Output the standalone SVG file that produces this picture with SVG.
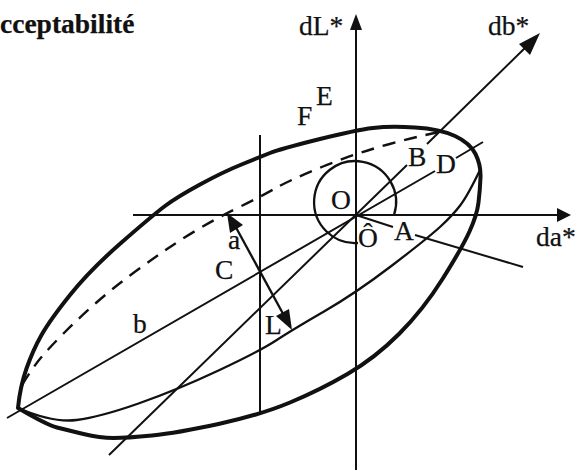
<svg xmlns="http://www.w3.org/2000/svg" width="575" height="472" viewBox="0 0 575 472">
<style>
text{font-family:"Liberation Serif","Times New Roman",serif;font-size:27.5px;fill:#111;stroke:#111;stroke-width:.25}
.title{font-weight:bold}
.l{fill:none;stroke:#111;stroke-width:2}
.m{fill:none;stroke:#111;stroke-width:2.3}
.thick{fill:none;stroke:#111;stroke-width:4;stroke-linejoin:round}
.dash{fill:none;stroke:#111;stroke-width:2.4;stroke-dasharray:13 9}
.head{fill:#111;stroke:none}
</style>
<rect width="575" height="472" fill="#fff"/>
<g id="connectors">
<path class="l" d="M133 215H558"/>
<path class="head" d="M571 215L557 208V222Z"/>
<path class="l" d="M356 470V28"/>
<path class="head" d="M356 14L350 30H362Z"/>
<path class="l" d="M109 455L407 165M427 144L530 43"/>
<path class="head" d="M540 33L519 44L530 55Z"/>
<path class="l" d="M7 418L435 171M456 158L483 142"/>
<path class="l" d="M356 215L393 227M415 235L523 267"/>
<path class="l" d="M260 135V415"/>
<path class="m" d="M233 222L287 321"/>
<path class="head" d="M227 213L230 233L243 225Z"/>
<path class="head" d="M292 330L276 316L289 309Z"/>
</g>
<g id="ellipse">
<path class="thick" d="M18 408Q20 387 26.5 368.5T41.5 335T70 295T121.5 242.5T165 206T200 184.5T241.5 164.5T270 153T318 139.5T373 128T415 127.5T455 136T475.5 154T480.5 177.5T478.5 202.5T469.5 231.5T442.5 279T399 334T347.5 374T290 402.5T218.5 424T152 435.5T113.5 438T83.5 434T57 427.5T18 408Z"/>
<path class="m" d="M480 170Q468 195 460.5 205T440.5 226.5T392 265.5T324 311.5T276 340.5T218.5 370.5T138.5 403.5T76.5 420Q53 423 18 408"/>
<path class="dash" d="M22 385Q33 367 41.5 357T65 332T96.5 302.5T130 275.5T163.5 251.5T198.5 229T238.5 207.5T275 188.5T323 166.5T391.5 143.5T445 131"/>
<path class="m" d="M358 243A41 41 0 1 1 394 215"/>
</g>
<g id="labels">
<text class="title" x="0" y="33">cceptabilité</text>
<text x="299" y="35">dL*</text>
<text x="488" y="35">db*</text>
<text x="316" y="105">E</text>
<text x="297" y="125">F</text>
<text x="408" y="166">B</text>
<text x="436" y="173">D</text>
<text x="331" y="209">O</text>
<text x="358" y="247">Ô</text>
<text x="394" y="240">A</text>
<text x="536" y="246">da*</text>
<text x="228" y="249">a</text>
<text x="215" y="279">C</text>
<text x="133" y="333">b</text>
<text x="265" y="334">L</text>
</g>
</svg>
